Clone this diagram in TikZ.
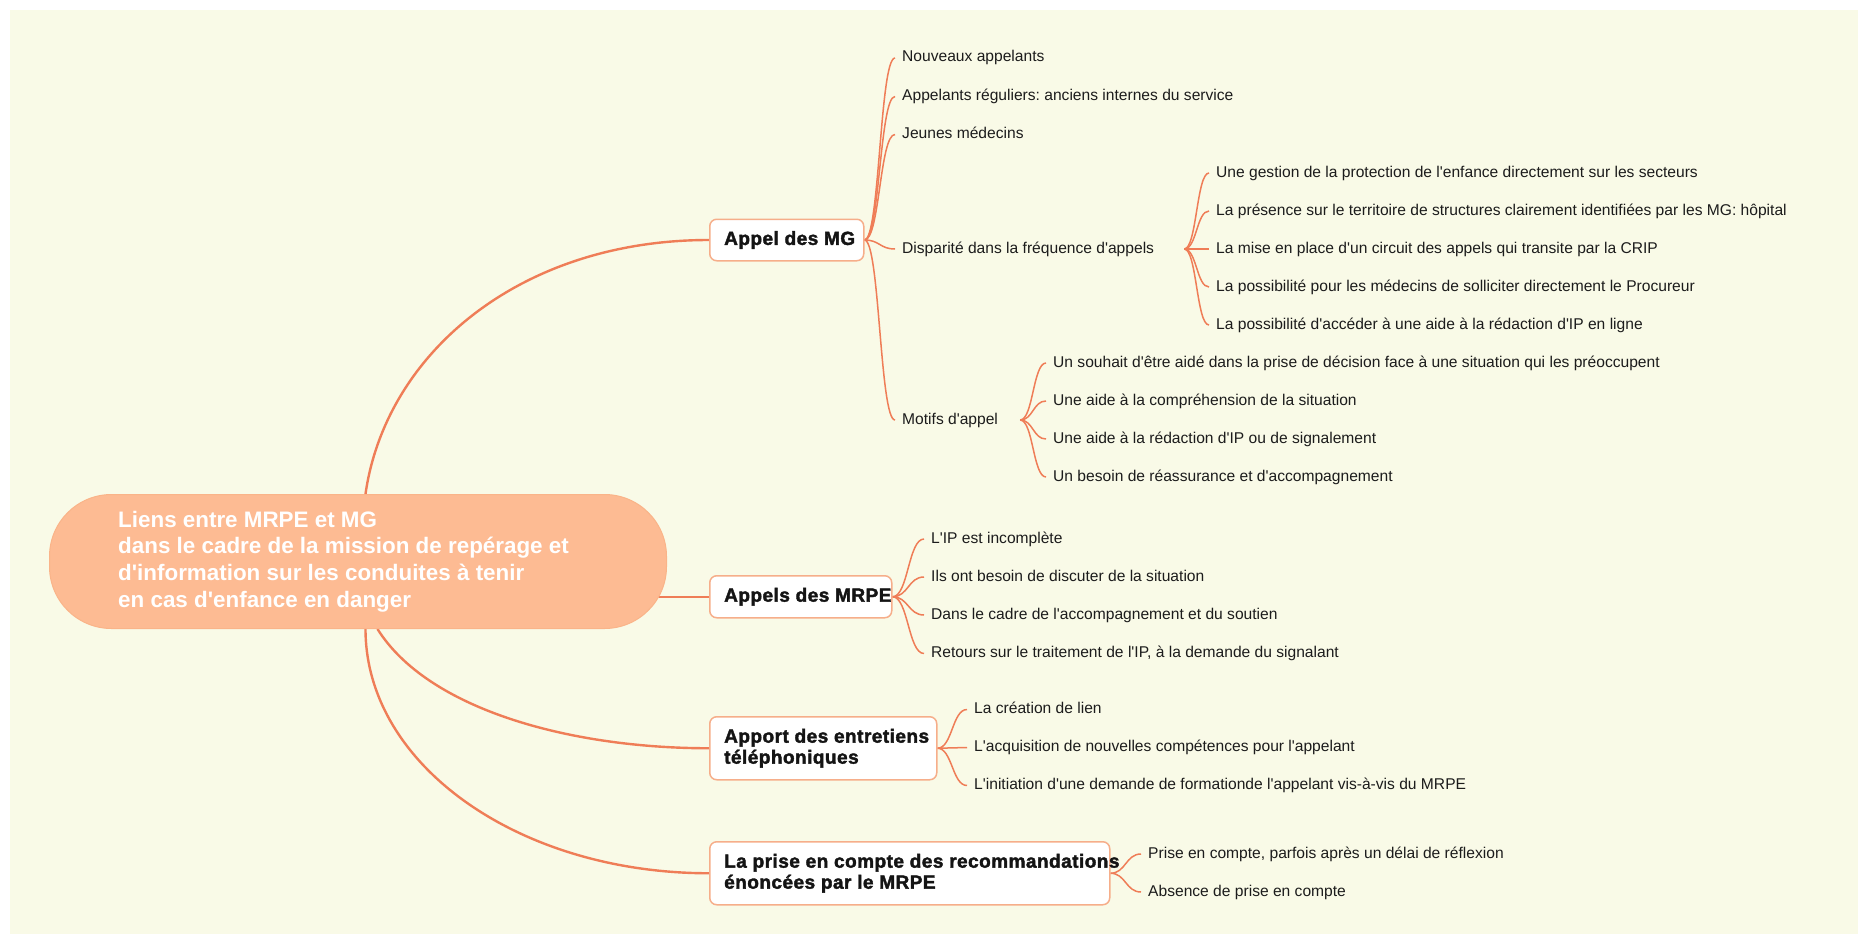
\documentclass[tikz,border=0pt]{standalone}
\usepackage{fontspec}
\setmainfont{Liberation Sans}[Ligatures=TeXOff]
\newfontfamily\branchfont{Liberation Sans Bold}[Ligatures=TeXOff,FakeBold=2,LetterSpace=2.5]
\usetikzlibrary{calc}
\definecolor{bgcol}{HTML}{F9FAE7}
\definecolor{rootfill}{HTML}{FDBB93}
\definecolor{rootborder}{HTML}{FAB489}
\definecolor{edgecol}{HTML}{EF7D57}
\definecolor{boxborder}{HTML}{F6AE8A}
\definecolor{leaftext}{HTML}{1C1C1C}
\pgfdeclarelayer{bg}
\pgfdeclarelayer{edges}
\pgfsetlayers{bg,edges,main}
\frenchspacing
\begin{document}
\begin{tikzpicture}[x=1pt,y=-1pt,
  rootbox/.style={draw=rootborder, line width=1pt, fill=rootfill, rounded corners=62pt, minimum width=617pt, minimum height=134pt, inner sep=0pt, anchor=north west},
  roottext/.style={font=\bfseries\fontsize{22.4}{26.7}\selectfont, text=white, align=left, anchor=west, inner sep=0pt},
  branchbox/.style={draw=boxborder, line width=1.5pt, fill=white, rounded corners=7pt, inner sep=0pt, anchor=north west},
  branchtext/.style={font=\branchfont\fontsize{19}{21}\selectfont, text=black!92, align=left, anchor=west, inner sep=0pt},
  leaf/.style={font=\fontsize{15.6}{18}\selectfont, text=leaftext, anchor=west, inner xsep=7pt, inner ysep=1pt, text height=11.5pt, text depth=3.5pt},
  rootedge/.style={draw=edgecol, line width=2.4pt},
  leafedge/.style={draw=edgecol, line width=1.5pt, to path={let \p1=(\tikztostart), \p2=(\tikztotarget) in .. controls ({0.5*\x1+0.5*\x2},\y1) and ({0.5*\x1+0.5*\x2},\y2) .. (\tikztotarget)}}
]
\useasboundingbox (0,0) rectangle (1858,934);
\begin{pgfonlayer}{bg}
\fill[bgcol] (10,10) rectangle (1858,934);
\end{pgfonlayer}

% root
\node[rootbox] (root) at (49,494) {};
\node[roottext] (roottxt) at ([xshift=69pt]root.west) {Liens entre MRPE et MG\\dans le cadre de la mission de repérage et\\d'information sur les conduites à tenir\\en cas d'enfance en danger};

% branches
\node[branchbox, minimum width=154pt, minimum height=41.5pt] (b1) at (709,218.5) {};
\node[branchtext] (b1t) at ([xshift=15pt]b1.west) {Appel des MG};
\node[branchbox, minimum width=182pt, minimum height=42pt] (b2) at (709,575) {};
\node[branchtext] (b2t) at ([xshift=15pt]b2.west) {Appels des MRPE};
\node[branchbox, minimum width=227pt, minimum height=63pt] (b3) at (709,716) {};
\node[branchtext] (b3t) at ([xshift=15pt]b3.west) {Apport des entretiens\\téléphoniques};
\node[branchbox, minimum width=400pt, minimum height=63pt] (b4) at (709,841) {};
\node[branchtext] (b4t) at ([xshift=15pt]b4.west) {La prise en compte des recommandations\\énoncées par le MRPE};

% leaves of Appel des MG
\node[leaf] (a1) at (895,58) {Nouveaux appelants};
\node[leaf] (a2) at (895,96.5) {Appelants réguliers: anciens internes du service};
\node[leaf] (a3) at (895,134.5) {Jeunes médecins};
\node[leaf] (a4) at (895,249) {Disparité dans la fréquence d'appels};
\node[leaf] (a5) at (895,420) {Motifs d'appel};
\coordinate (a4o) at ([xshift=23pt]a4.east);
\coordinate (a5o) at ([xshift=15pt]a5.east);

\node[leaf] (d1) at (1209,173) {Une gestion de la protection de l'enfance directement sur les secteurs};
\node[leaf] (d2) at (1209,211) {La présence sur le territoire de structures clairement identifiées par les MG: hôpital};
\node[leaf] (d3) at (1209,249) {La mise en place d'un circuit des appels qui transite par la CRIP};
\node[leaf] (d4) at (1209,287) {La possibilité pour les médecins de solliciter directement le Procureur};
\node[leaf] (d5) at (1209,325) {La possibilité d'accéder à une aide à la rédaction d'IP en ligne};

\node[leaf] (m1) at (1046,363) {Un souhait d'être aidé dans la prise de décision face à une situation qui les préoccupent};
\node[leaf] (m2) at (1046,401) {Une aide à la compréhension de la situation};
\node[leaf] (m3) at (1046,439) {Une aide à la rédaction d'IP ou de signalement};
\node[leaf] (m4) at (1046,477) {Un besoin de réassurance et d'accompagnement};

% leaves of Appels des MRPE
\node[leaf] (e1) at (924,539) {L'IP est incomplète};
\node[leaf] (e2) at (924,577) {Ils ont besoin de discuter de la situation};
\node[leaf] (e3) at (924,615) {Dans le cadre de l'accompagnement et du soutien};
\node[leaf] (e4) at (924,653.5) {Retours sur le traitement de l'IP, à la demande du signalant};

% leaves of Apport
\node[leaf] (p1) at (967,709.5) {La création de lien};
\node[leaf] (p2) at (967,747.5) {L'acquisition de nouvelles compétences pour l'appelant};
\node[leaf] (p3) at (967,785.5) {L'initiation d'une demande de formationde l'appelant vis-à-vis du MRPE};

% leaves of La prise
\node[leaf] (q1) at (1141,854) {Prise en compte, parfois après un délai de réflexion};
\node[leaf] (q2) at (1141,892) {Absence de prise en compte};

\begin{pgfonlayer}{edges}
\draw[rootedge] ([xshift=7.5pt]root.north) .. controls +(20,-140) and +(-190,0) .. (b1.west);
\draw[rootedge] (root.center |- b2.west) -- (b2.west);
\draw[rootedge] ([xshift=19.5pt]root.south) .. controls +(50,80) and +(-140,0) .. (b3.west);
\draw[rootedge] ([xshift=7.5pt]root.south) .. controls +(0,136) and +(-190,0) .. (b4.west);

\foreach \t in {a1,a2,a3,a4,a5} \draw[leafedge] (b1.east) to (\t.west);
\foreach \t in {d1,d2,d3,d4,d5} \draw[leafedge] (a4o) to (\t.west);
\foreach \t in {m1,m2,m3,m4} \draw[leafedge] (a5o) to (\t.west);
\foreach \t in {e1,e2,e3,e4} \draw[leafedge] (b2.east) to (\t.west);
\foreach \t in {p1,p2,p3} \draw[leafedge] (b3.east) to (\t.west);
\foreach \t in {q1,q2} \draw[leafedge] (b4.east) to (\t.west);
\end{pgfonlayer}
\end{tikzpicture}
\end{document}
